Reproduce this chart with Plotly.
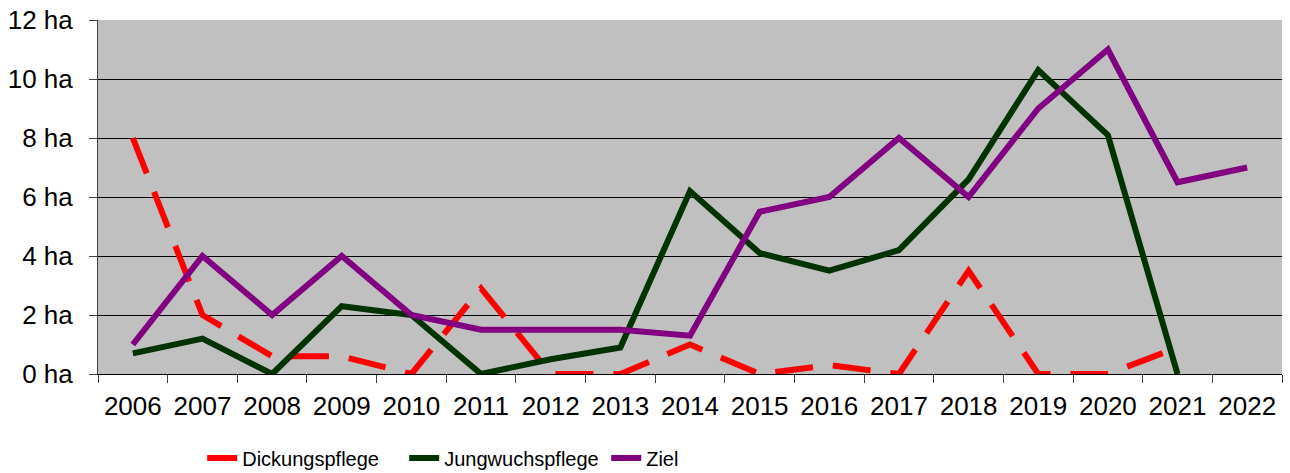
import plotly.graph_objects as go

years = [str(y) for y in range(2006, 2023)]
dickungspflege = [8.0, 2.0, 0.6, 0.6, 0.0, 2.9, 0.0, 0.0, 1.0, 0.0, 0.3, 0.0, 3.5, 0.0, 0.0, 0.9, None]
jungwuchspflege = [0.7, 1.2, 0.0, 2.3, 2.0, 0.0, 0.5, 0.9, 6.2, 4.1, 3.5, 4.2, 6.6, 10.3, 8.1, 0.0, None]
ziel = [1.0, 4.0, 2.0, 4.0, 2.0, 1.5, 1.5, 1.5, 1.3, 5.5, 6.0, 8.0, 6.0, 9.0, 11.0, 6.5, 7.0]
y_ticks = [0, 2, 4, 6, 8, 10, 12]
y_ticktext = [f"{v} ha" for v in y_ticks]

fig = go.Figure()
fig.add_trace(go.Scatter(x=years, y=dickungspflege, name="Dickungspflege", mode="lines",
                         line=dict(color="#FF0000", width=6, dash="38px,20px")))
fig.add_trace(go.Scatter(x=years, y=jungwuchspflege, name="Jungwuchspflege", mode="lines",
                         line=dict(color="#003300", width=6)))
fig.add_trace(go.Scatter(x=years, y=ziel, name="Ziel", mode="lines",
                         line=dict(color="#800080", width=6)))

fig.update_layout(
    width=1290, height=473,
    margin=dict(l=98, r=8, t=20, b=99, autoexpand=False),
    paper_bgcolor="white", plot_bgcolor="#C0C0C0",
    font=dict(family="Liberation Sans, Arial, sans-serif", color="black", size=26),
    showlegend=True,
    legend=dict(orientation="h", x=0.088, xanchor="left", y=-0.237, yanchor="middle",
                font=dict(family="Liberation Sans, Arial, sans-serif", size=20),
                itemwidth=30, tracegroupgap=0, entrywidth=157),
)
fig.update_xaxes(type="category", range=[-0.5, 16.5], tickson="boundaries", ticks="outside",
                 ticklen=8, tickcolor="#404040", showgrid=False, showline=True, linecolor="black",
                 linewidth=1, tickfont=dict(size=26), ticklabelstandoff=9, automargin=False)
fig.update_yaxes(range=[0, 12], tickvals=y_ticks, ticktext=y_ticktext, ticks="outside",
                 ticklen=8, tickcolor="#404040", showgrid=True, gridcolor="black", gridwidth=1,
                 showline=True, linecolor="#404040", linewidth=1, zeroline=False,
                 tickfont=dict(size=26), ticklabelstandoff=11, automargin=False)

fig.write_html("out.html", config={"displayModeBar": False},
               post_script="document.body.style.margin='0';document.body.style.overflow='hidden';")
